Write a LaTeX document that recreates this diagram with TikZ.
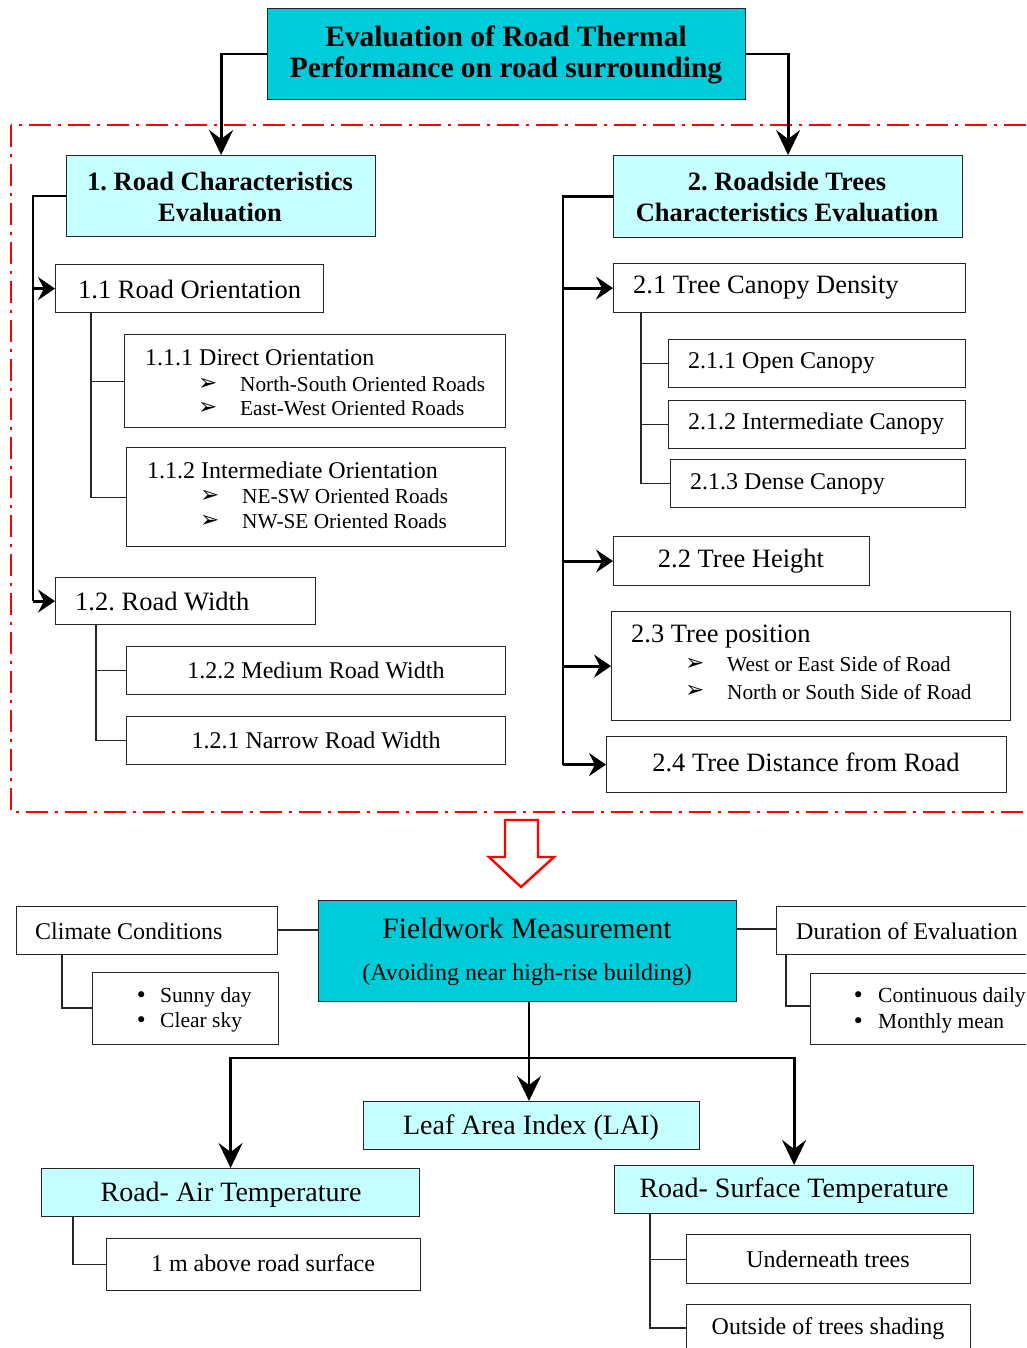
\documentclass[tikz,border=0pt]{standalone}
\usepackage{fontspec}
\setmainfont{Liberation Serif}
\newfontfamily\djv{DejaVu Sans}
\usetikzlibrary{arrows.meta}
\definecolor{cyanA}{RGB}{0,204,217}
\definecolor{cyanB}{RGB}{198,255,255}
\tikzset{
  bx/.style={draw=black!85, line width=1.2pt, anchor=north west, inner sep=0pt},
  thk/.style={line width=2.8pt, black},
  thn/.style={line width=1.2pt, black!85},
  arrbig/.style={thk, -{Stealth[length=25pt, width=24pt, inset=9pt]}},
  arrbr/.style={thk, -{Stealth[length=17pt, width=23pt, inset=6pt]}},
  fs/.style={font=\frenchspacing\fontsize{#1}{#1}\selectfont},
  fb/.style={font=\frenchspacing\bfseries\fontsize{#1}{#1}\selectfont},
  tl/.style={anchor=west, inner sep=0pt},
  tc/.style={anchor=center, inner sep=0pt},
}
\newcommand{\arh}{{\djv\char"27A2}}
\newcommand{\bul}{{\djv\char"2022}}
\begin{document}
\begin{tikzpicture}[x=1pt,y=-1pt]
\useasboundingbox (0,0) rectangle (1026,1348);
\begin{scope}
\clip (0,0) rectangle (1026,1348);
% red dash-dot frame
\draw[red, line width=1.6pt, dash pattern=on 22pt off 7pt on 3pt off 7pt] (11,125) rectangle (1060,812);

% title
\node[bx, fill=cyanA, minimum width=478, minimum height=91] (title) at (267,8) {};
\node[tc, fb=29.5] (t1) at (506,36) {Evaluation of Road Thermal};
\node[tc, fb=29.5] (t2) at (506,70) {Performance on road surrounding};

% box 1
\node[bx, fill=cyanB, minimum width=309, minimum height=81] (b1) at (66,155) {};
\node[tc, fb=26.5] (b1a) at (220,181) {1. Road Characteristics};
\node[tc, fb=26.5] (b1b) at (220,212) {Evaluation};

% box 2
\node[bx, fill=cyanB, minimum width=349, minimum height=82] (b2) at (613,155) {};
\node[tc, fb=26.5] (b2a) at (787,181) {2. Roadside Trees};
\node[tc, fb=26.5] (b2b) at (787,212) {Characteristics Evaluation};

\draw[arrbig] (title.west) -| (b1.north);
\draw[arrbig] (title.east) -| (b2.north);

% ---- left branch
\node[bx, minimum width=268, minimum height=48] (b11) at (55,264) {};
\node[tl, fs=26.5] (b11t) at (78,289) {1.1 Road Orientation};

\node[bx, minimum width=381, minimum height=93] (b111) at (124,334) {};
\node[tl, fs=24] (b111t) at (145,358) {1.1.1 Direct Orientation};
\node[tl, fs=23] (b111m1) at (198,384) {\arh};
\node[tl, fs=21.3] (b111a) at (240,384) {North-South Oriented Roads};
\node[tl, fs=23] (b111m2) at (198,408) {\arh};
\node[tl, fs=21.3] (b111b) at (240,408) {East-West Oriented Roads};

\node[bx, minimum width=379, minimum height=99] (b112) at (126,447) {};
\node[tl, fs=24] (b112t) at (147,470) {1.1.2 Intermediate Orientation};
\node[tl, fs=23] (b112m1) at (200,496) {\arh};
\node[tl, fs=21.3] (b112a) at (242,496) {NE-SW Oriented Roads};
\node[tl, fs=23] (b112m2) at (200,521) {\arh};
\node[tl, fs=21.3] (b112b) at (242,521) {NW-SE Oriented Roads};

\node[bx, minimum width=260, minimum height=47] (b12) at (55,577) {};
\node[tl, fs=26.5] (b12t) at (75,602) {1.2. Road Width};

\node[bx, minimum width=379, minimum height=48] (b122) at (126,646) {};
\node[tc, fs=24] (b122t) at (316,670) {1.2.2 Medium Road Width};
\node[bx, minimum width=379, minimum height=48] (b121) at (126,716) {};
\node[tc, fs=24] (b121t) at (316,740) {1.2.1 Narrow Road Width};

\coordinate (L1) at (33,0);
\draw[thk] (b1.west) -| (L1 |- b12.west);
\draw[arrbr] (L1 |- b11.west) -- (b11.west);
\draw[arrbr] (L1 |- b12.west) -- (b12.west);

\coordinate (L11) at (91,0);
\draw[thn] (L11 |- b11.south) -- (L11 |- b112.west) -- (b112.west);
\draw[thn] (L11 |- b111.west) -- (b111.west);

\coordinate (L12) at (96,0);
\draw[thn] (L12 |- b12.south) -- (L12 |- b121.west) -- (b121.west);
\draw[thn] (L12 |- b122.west) -- (b122.west);

% ---- right branch
\node[bx, minimum width=352, minimum height=49] (b21) at (613,263) {};
\node[tl, fs=26.5] (b21t) at (633,288) {2.1 Tree Canopy Density};
\node[bx, minimum width=297, minimum height=48] (b211) at (668,339) {};
\node[tl, fs=24] (b211t) at (688,363) {2.1.1 Open Canopy};
\node[bx, minimum width=297, minimum height=48] (b212) at (668,400) {};
\node[tl, fs=24] (b212t) at (688,424) {2.1.2 Intermediate Canopy};
\node[bx, minimum width=295, minimum height=48] (b213) at (670,459) {};
\node[tl, fs=24] (b213t) at (690,484) {2.1.3 Dense Canopy};

\node[bx, minimum width=256, minimum height=49] (b22) at (613,536) {};
\node[tc, fs=26.5] (b22t) at (741,561) {2.2 Tree Height};

\node[bx, minimum width=399, minimum height=109] (b23) at (611,611) {};
\node[tl, fs=26.5] (b23t) at (631,637) {2.3 Tree position};
\node[tl, fs=23] (b23m1) at (685,664) {\arh};
\node[tl, fs=21.3] (b23a) at (727,664) {West or East Side of Road};
\node[tl, fs=23] (b23m2) at (685,691) {\arh};
\node[tl, fs=21.3] (b23b) at (727,692) {North or South Side of Road};

\node[bx, minimum width=400, minimum height=56] (b24) at (606,736) {};
\node[tc, fs=26.5] (b24t) at (806,762) {2.4 Tree Distance from Road};

\coordinate (L2) at (563,0);
\draw[thk] (b2.west) -| (L2 |- b24.west);
\draw[arrbr] (L2 |- b21.west) -- (b21.west);
\draw[arrbr] (L2 |- b22.west) -- (b22.west);
\draw[arrbr] (L2 |- b23.west) -- (b23.west);
\draw[arrbr] (L2 |- b24.west) -- (b24.west);

\coordinate (L21) at (641,0);
\draw[thn] (L21 |- b21.south) -- (L21 |- b213.west) -- (b213.west);
\draw[thn] (L21 |- b211.west) -- (b211.west);
\draw[thn] (L21 |- b212.west) -- (b212.west);

% hollow red arrow
\draw[red, line width=2.4pt, fill=white, line join=miter] (505,820) -- (538,820) -- (538,857) -- (554,857) -- (521,887) -- (489,857) -- (505,857) -- cycle;

% ---- fieldwork
\node[bx, fill=cyanA, minimum width=418, minimum height=101] (fw) at (318,900) {};
\node[tc, fs=29.5] (fwa) at (527,928) {Fieldwork Measurement};
\node[tc, fs=24] (fwb) at (527,975) {(Avoiding near high-rise building)};

\node[bx, minimum width=261, minimum height=48] (cc) at (16,906) {};
\node[tl, fs=24] (cct) at (35,931) {Climate Conditions};
\node[bx, minimum width=186, minimum height=72] (sd) at (92,972) {};
\node[tl, fs=21] (sdm1) at (135,997) {\bul};
\node[tl, fs=21.5] (sda) at (160,997) {Sunny day};
\node[tl, fs=21] (sdm2) at (135,1022) {\bul};
\node[tl, fs=21.5] (sdb) at (160,1022) {Clear sky};

\node[bx, minimum width=270, minimum height=48] (de) at (776,906) {};
\node[tl, fs=24] (det) at (796,931) {Duration of Evaluation};
\node[bx, minimum width=240, minimum height=71] (cd) at (810,973) {};
\node[tl, fs=21] (cdm1) at (852,997) {\bul};
\node[tl, fs=21.5] (cda) at (878,997) {Continuous daily};
\node[tl, fs=21] (cdm2) at (852,1023) {\bul};
\node[tl, fs=21.5] (cdb) at (878,1023) {Monthly mean};

\draw[thn] (cc.east |- 0,930) -- (fw.west |- 0,930);
\draw[thn] (fw.east |- 0,929) -- (de.west |- 0,929);
\coordinate (Lc) at (62,0);
\draw[thn] (Lc |- cc.south) -- (Lc |- 0,1008) -- (sd.west |- 0,1008);
\coordinate (Ld) at (786,0);
\draw[thn] (Ld |- de.south) -- (Ld |- 0,1006) -- (cd.west |- 0,1006);

% ---- bottom
\node[bx, fill=cyanB, minimum width=336, minimum height=48] (lai) at (363,1101) {};
\node[tc, fs=28] (lait) at (531,1128) {Leaf Area Index (LAI)};
\node[bx, fill=cyanB, minimum width=378, minimum height=48] (rat) at (41,1168) {};
\node[tc, fs=28] (ratt) at (231,1195) {Road- Air Temperature};
\node[bx, fill=cyanB, minimum width=359, minimum height=48] (rst) at (614,1165) {};
\node[tc, fs=28] (rstt) at (794,1191) {Road- Surface Temperature};

\node[bx, minimum width=314, minimum height=52] (onem) at (106,1238) {};
\node[tc, fs=24] (onemt) at (263,1263) {1 m above road surface};
\node[bx, minimum width=284, minimum height=49] (ut) at (686,1234) {};
\node[tc, fs=24] (utt) at (828,1259) {Underneath trees};
\node[bx, minimum width=284, minimum height=60] (ot) at (686,1304) {};
\node[tc, fs=24] (ott) at (828,1329) {Outside of trees shading};

\coordinate (J) at (529,1058);
\draw[thk] (fw.south -| J) -- (J);
\draw[arrbig] (J) -- (lai.north -| J);
\draw[arrbig] (J) -| (rat.north);
\draw[arrbig] (J) -| (rst.north);

\coordinate (La) at (73,0);
\draw[thn] (La |- rat.south) -- (La |- onem.west) -- (onem.west);
\coordinate (Ls) at (650,0);
\draw[thn] (Ls |- rst.south) -- (Ls |- 0,1328) -- (ot.west |- 0,1328);
\draw[thn] (Ls |- ut.west) -- (ut.west);
\end{scope}
\end{tikzpicture}
\end{document}
